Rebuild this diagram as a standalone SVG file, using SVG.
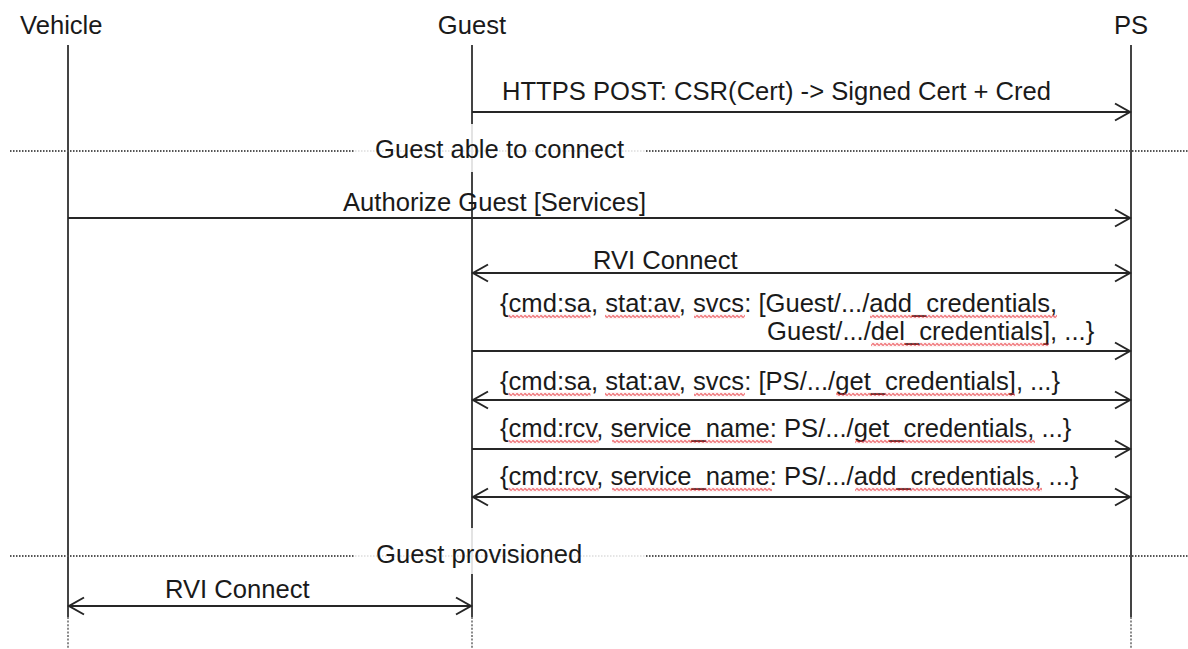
<svg xmlns="http://www.w3.org/2000/svg" width="1188" height="649" viewBox="0 0 1188 649">
  <defs>
    <style>
      .lbl { font-family: "Liberation Sans", Arial, Helvetica, sans-serif; font-size: 25.6px; fill: #1a1a1a; }
      .life { stroke: #444; stroke-width: 2; }
      .tail { stroke: #8a8a8a; stroke-width: 2; stroke-dasharray: 2 1.6; }
      .sep { stroke: #555; stroke-width: 2; stroke-dasharray: 1.5 1.5; }
      .msg { stroke: #262626; stroke-width: 2; fill: none; }
      .fwd { marker-end: url(#head); }
      .both { marker-start: url(#head); marker-end: url(#head); }
      .veil { fill: #fff; fill-opacity: 0.85; }
      .sq { fill: url(#wave); }
    </style>
    <!-- open chevron arrowhead -->
    <marker id="head" viewBox="0 0 17 18" refX="16" refY="9" markerWidth="17" markerHeight="18"
            markerUnits="userSpaceOnUse" orient="auto-start-reverse" overflow="visible">
      <path d="M0 0.5 L15 9 L0 17.5" fill="none" stroke="#262626" stroke-width="2"/>
    </marker>
    <!-- wavy spell-check underline tile -->
    <pattern id="wave" width="4" height="4" patternUnits="userSpaceOnUse">
      <path d="M0 2 Q1 0.5 2 2 T4 2" fill="none" stroke="#e8343a" stroke-opacity="0.9" stroke-width="1.3"/>
    </pattern>
  </defs>

  <rect width="1188" height="649" fill="#fff"/>

  <!-- participants -->
  <g id="vehicle">
    <text class="lbl" x="20" y="34">Vehicle</text>
    <line class="life" x1="68" y1="45" x2="68" y2="617"/>
    <line class="tail" x1="68" y1="617" x2="68" y2="649"/>
  </g>
  <g id="guest">
    <text class="lbl" x="472" y="34" text-anchor="middle">Guest</text>
    <line class="life" x1="472" y1="45" x2="472" y2="617"/>
    <line class="tail" x1="472" y1="617" x2="472" y2="649"/>
  </g>
  <g id="ps">
    <text class="lbl" x="1131" y="34" text-anchor="middle">PS</text>
    <line class="life" x1="1131" y1="45" x2="1131" y2="617"/>
    <line class="tail" x1="1131" y1="617" x2="1131" y2="649"/>
  </g>

  <!-- state separators -->
  <g id="sep-connect">
    <line class="sep" x1="10" y1="151" x2="1188" y2="151"/>
    <rect class="veil" x="355" y="124" width="291" height="48"/>
    <text class="lbl" x="375" y="158">Guest able to connect</text>
  </g>
  <g id="sep-provisioned">
    <line class="sep" x1="10" y1="556" x2="1188" y2="556"/>
    <rect class="veil" x="355" y="528" width="291" height="46"/>
    <text class="lbl" x="376" y="563">Guest provisioned</text>
  </g>

  <!-- messages -->
  <g id="connectors">
    <line class="msg fwd" x1="472" y1="112" x2="1131" y2="112"/>
    <text class="lbl" x="502" y="100">HTTPS POST: CSR(Cert) -&gt; Signed Cert + Cred</text>

    <line class="msg fwd" x1="68" y1="218" x2="1131" y2="218"/>
    <text class="lbl" x="343" y="211">Authorize Guest [Services]</text>

    <line class="msg both" x1="472" y1="273" x2="1131" y2="273"/>
    <text class="lbl" x="593" y="269">RVI Connect</text>

    <line class="msg fwd" x1="472" y1="351" x2="1131" y2="351"/>
    <text class="lbl" x="500" y="312">{cmd:sa, stat:av, svcs: [Guest/.../add_credentials,</text>
    <text class="lbl" x="767" y="340">Guest/.../del_credentials], ...}</text>

    <line class="msg both" x1="472" y1="400" x2="1131" y2="400"/>
    <text class="lbl" x="500" y="390">{cmd:sa, stat:av, svcs: [PS/.../get_credentials], ...}</text>

    <line class="msg fwd" x1="472" y1="449" x2="1131" y2="449"/>
    <text class="lbl" x="500" y="437">{cmd:rcv, service_name: PS/.../get_credentials, ...}</text>

    <line class="msg both" x1="472" y1="497" x2="1131" y2="497"/>
    <text class="lbl" x="500" y="485">{cmd:rcv, service_name: PS/.../add_credentials, ...}</text>

    <line class="msg both" x1="68" y1="606" x2="472" y2="606"/>
    <text class="lbl" x="165" y="598">RVI Connect</text>
  </g>

  <!-- spell-check squiggles under flagged words -->
  <g id="squiggles">
    <g transform="translate(0,314.5)">
      <rect class="sq" x="508.5" y="0" width="82" height="4"/>
      <rect class="sq" x="605" y="0" width="75" height="4"/>
      <rect class="sq" x="694" y="0" width="51" height="4"/>
      <rect class="sq" x="870" y="0" width="187" height="4"/>
    </g>
    <g transform="translate(0,342.5)">
      <rect class="sq" x="871" y="0" width="178" height="4"/>
    </g>
    <g transform="translate(0,392.5)">
      <rect class="sq" x="508.5" y="0" width="82" height="4"/>
      <rect class="sq" x="605" y="0" width="75" height="4"/>
      <rect class="sq" x="694" y="0" width="51" height="4"/>
      <rect class="sq" x="836" y="0" width="179" height="4"/>
    </g>
    <g transform="translate(0,439.5)">
      <rect class="sq" x="508.5" y="0" width="90" height="4"/>
      <rect class="sq" x="612" y="0" width="160" height="4"/>
      <rect class="sq" x="855" y="0" width="180" height="4"/>
    </g>
    <g transform="translate(0,487.5)">
      <rect class="sq" x="508.5" y="0" width="90" height="4"/>
      <rect class="sq" x="612" y="0" width="160" height="4"/>
      <rect class="sq" x="855" y="0" width="187" height="4"/>
    </g>
  </g>
</svg>
